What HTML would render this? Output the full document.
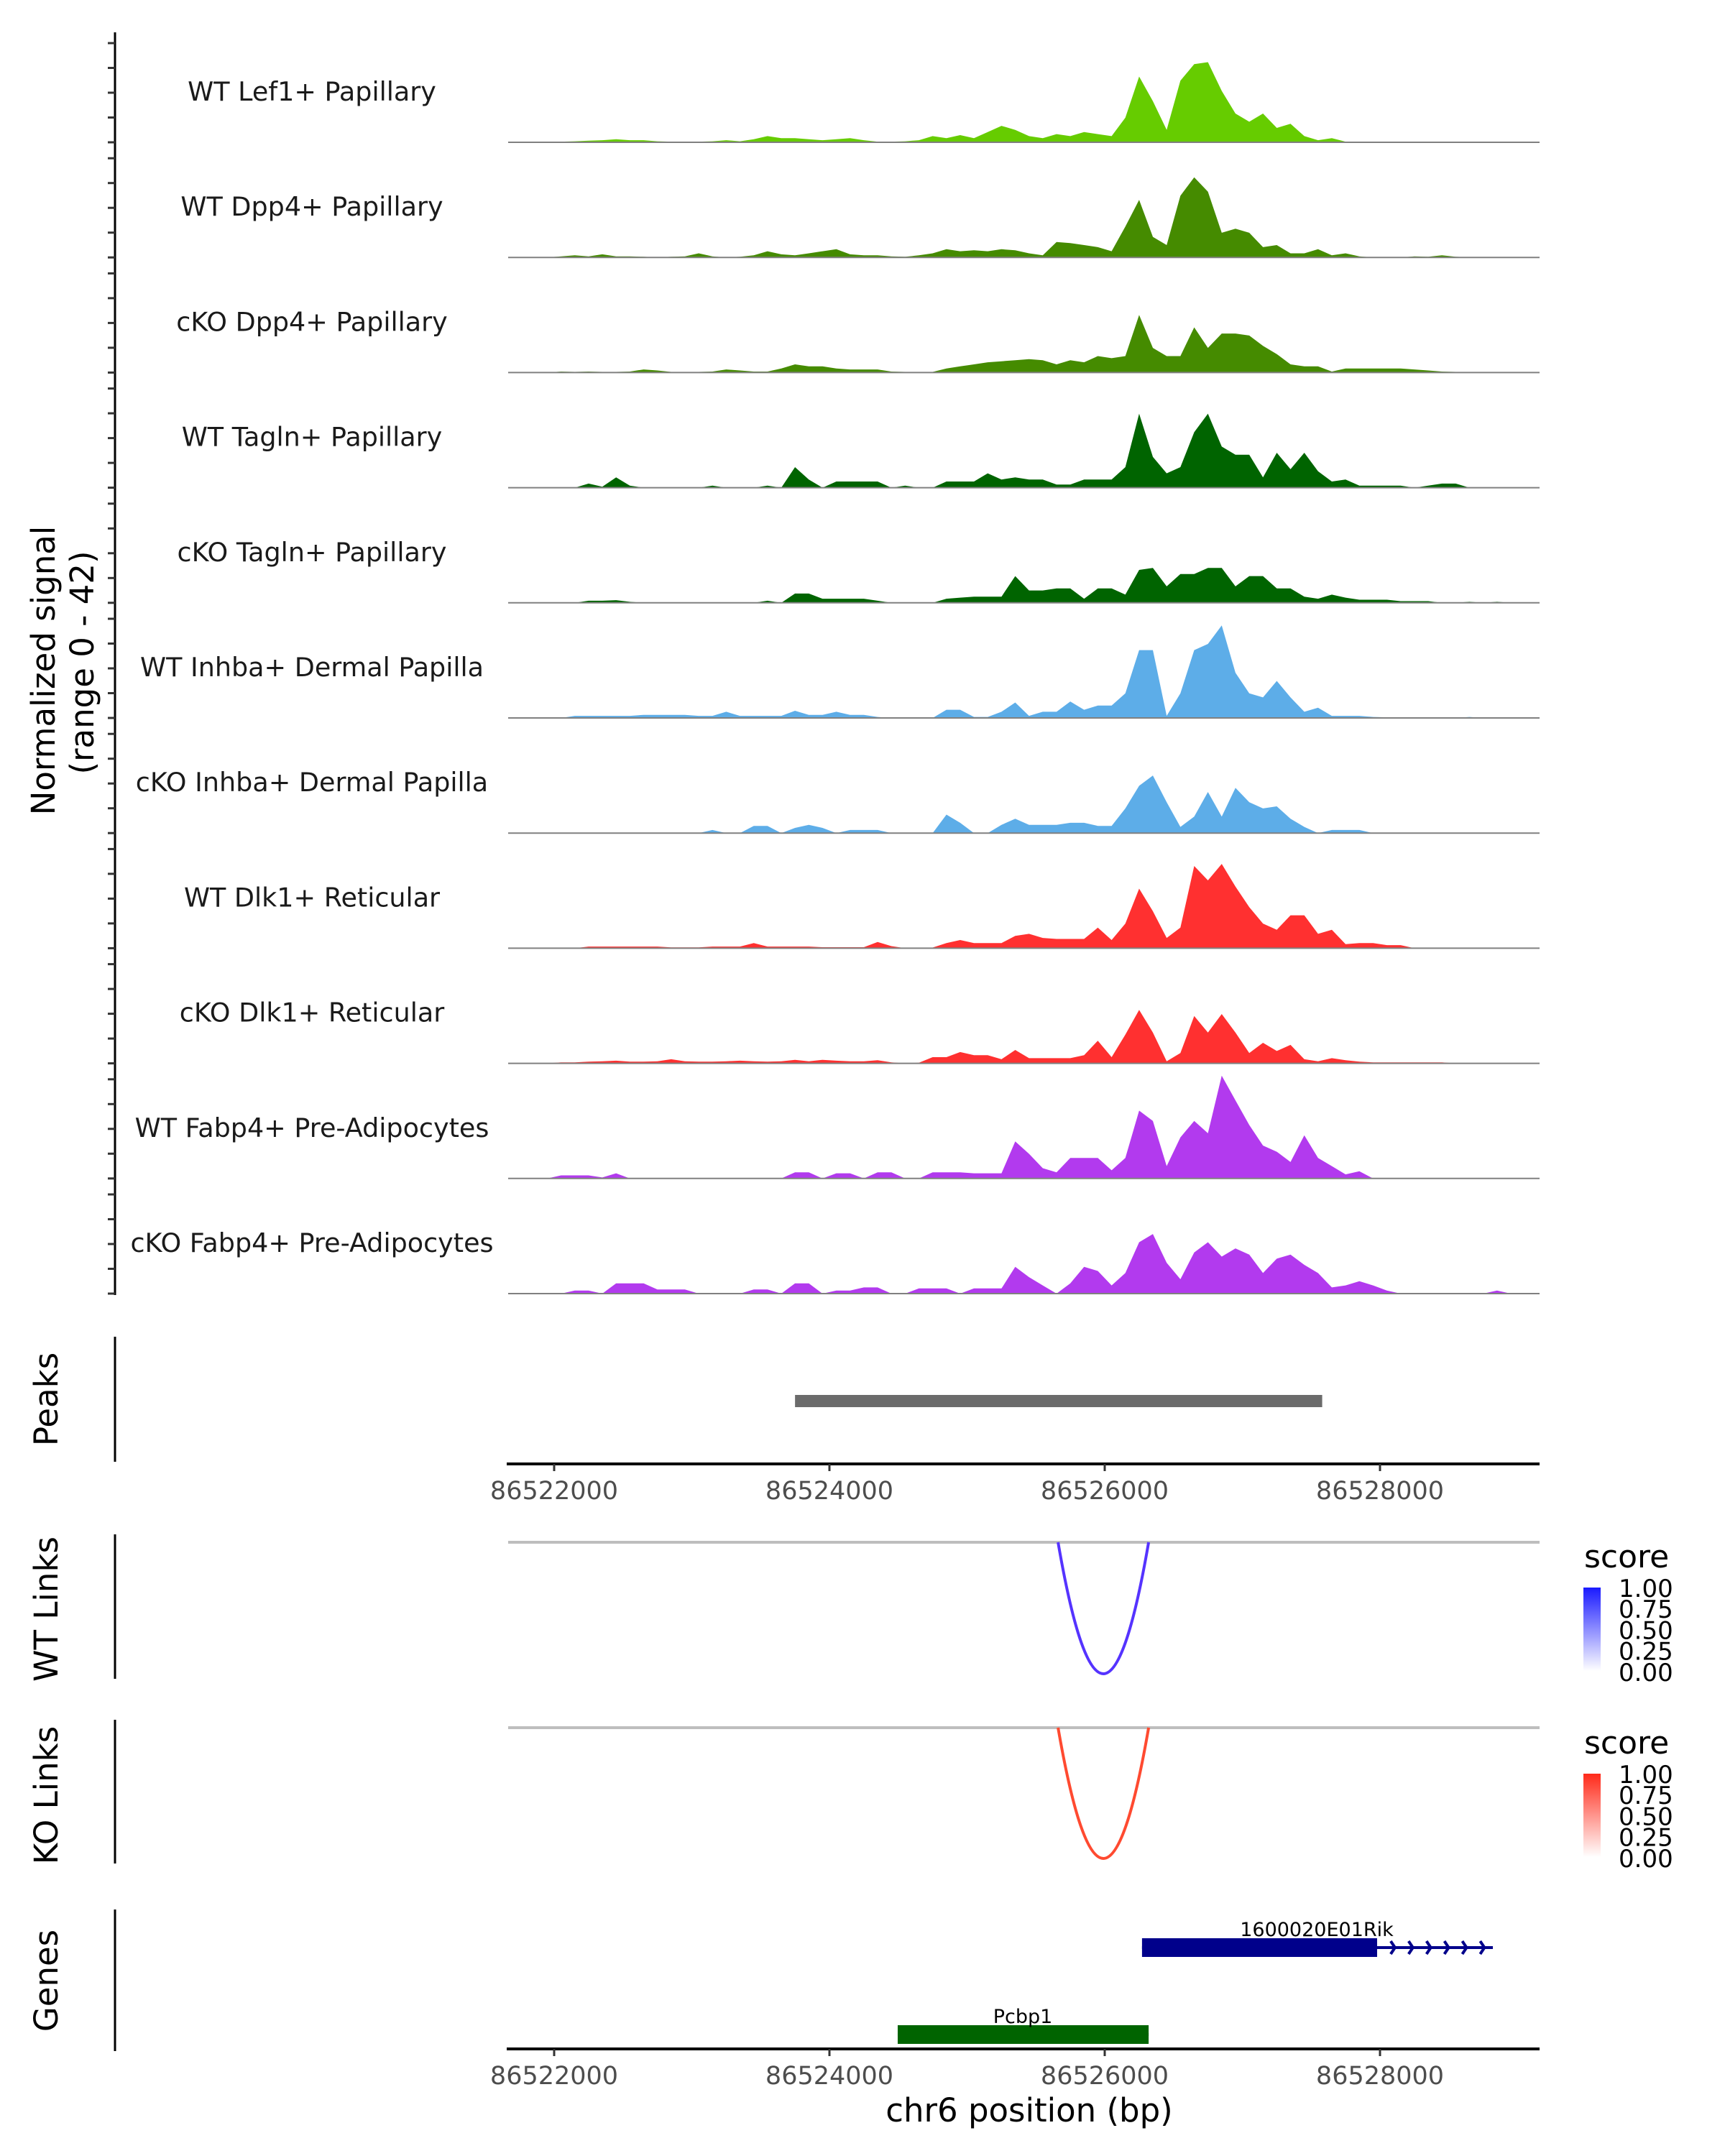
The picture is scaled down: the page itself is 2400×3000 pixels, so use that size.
<!DOCTYPE html>
<html><head><meta charset="utf-8"><style>
html,body{margin:0;padding:0;background:#fff}
svg{display:block}
text{font-family:"DejaVu Sans","Liberation Sans",sans-serif}
</style></head><body>
<svg id="chart" width="2400" height="3000" viewBox="0 0 2400 3000" xmlns="http://www.w3.org/2000/svg">
<g id="tracks"></g>
<g id="lower"></g>
</svg>
<script>
// ----- data -----
const binStart = 86521800;
const binSize = 100;
const trackNames = ["WT Lef1+ Papillary","WT Dpp4+ Papillary","cKO Dpp4+ Papillary","WT Tagln+ Papillary","cKO Tagln+ Papillary","WT Inhba+ Dermal Papilla","cKO Inhba+ Dermal Papilla","WT Dlk1+ Reticular","cKO Dlk1+ Reticular","WT Fabp4+ Pre-Adipocytes","cKO Fabp4+ Pre-Adipocytes"];
const trackColors = ["#66cc00","#458b00","#458b00","#006400","#006400","#5dade8","#5dade8","#ff3030","#ff3030","#b23aee","#b23aee"];
const sigLef1WT  = [0,0,0.3,0.5,0.8,1,1.5,1,1,0.5,0.3,0.3,0.3,0.5,1,0.5,1.5,3,2,2,1.5,1,1.5,2,1,0.3,0.3,0.5,1,3,2,3.5,2,5,8,6,3,2,4,3,5,4,3,12,32,20,6,30,38,39,25,14,10,14,7,9,3,1,2,0.3,0,0,0,0,0.3,0.3,0,0,0,0,0,0];
const sigDpp4WT  = [0,0,0.5,1,0.5,1.5,0.5,0.5,0.3,0,0.3,0.5,2,0.5,0,0.3,1,3,1.5,1,2,3,4,1.5,1,1,0.5,0.3,1,2,4,3,3.5,3,4,3.5,2,1,7.5,7,6,5,3,15,28,10,6,30,39,32,12,14,12,5,6,2,2,4,1,2,0.5,0,0,0,0.5,0.3,1,0.3,0,0,0,0];
const sigDpp4KO  = [0,0,0.5,0.3,0.5,0.3,0.3,0.5,1.5,1,0.3,0.3,0.3,0.5,1.5,1,0.5,0.5,2,4,3,3,2,1.5,1.5,1.5,0.5,0.3,0.3,0.3,2,3,4,5,5.5,6,6.5,6,4,6,5,8,7,8,28,12,8,8,22,12,19,19,18,13,9,4,3,3,0.5,2,2,2,2,2,1.5,1,0.5,0.3,0.3,0,0,0];
const sigTaglnWT = [0,0,0,0,2,0.5,5,1,0,0,0,0,0,1,0,0,0,1,0,10,4,0,3,3,3,3,0,1,0,0,3,3,3,7,4,5,4,4,1.5,1.5,4,4,4,10,36,15,7,10,27,36,20,16,16,5,17,9,17,8,3,4,1,1,1,1,0,1,2,2,0,0,0,0];
const sigTaglnKO = [0,0,0,0,1,1,1.3,0.5,0,0,0,0,0,0,0,0,0,1,0,4.5,4.5,2,2,2,2,1,0,0,0,0,2,2.5,3,3,3,13,6,6,7,7,2,7,7,4,16,17,8,14,14,17,17,8,13,13,7,7,3,2,4,2.5,1.5,1.5,1.5,0.8,0.8,0.8,0,0,0.5,0,0.5,0];
const sigInhbaWT = [0,0,0,1,1,1,1,1,1.5,1.5,1.5,1.5,1,1,3,1,1,1,1,3.5,1.5,1.5,3,1.5,1.5,0.5,0,0,0.3,0,4,4,0.5,0.5,3,7.5,1,3,3,8,4,6,6,12,33,33,1,12,33,36,45,22,12,10,18,10,3,5,1,1,1,0.5,0.3,0,0.3,0,0,0,0.5,0,0,0];
const sigInhbaKO = [0,0,0,0,0,0,0,0,0,0,0,0,0,1.5,0,0,3.5,3.5,0,2.5,4,2.5,0,1.5,1.5,1.5,0,0,0,0,9,5,0,0,4,7,4,4,4,5,5,3.5,3.5,12,23,28,15,3,8,20,8,22,15,12,13,7,3,0,1.5,1.5,1.5,0,0,0,0,0,0,0,0,0,0,0];
const sigDlk1WT  = [0,0,0,0,0.8,0.8,0.8,0.8,0.8,0.8,0.4,0.4,0.4,0.8,0.8,0.8,2.5,0.8,0.8,0.8,0.8,0.5,0.5,0.5,0.5,3,1,0,0.3,0.3,2.5,4,2.5,2.5,2.5,6,7,5,4.5,4.5,4.5,10,4,12,29,18,5,10,40,33,41,30,20,12,9,16,16,7,9,2,2.5,2.5,1.5,1.5,0,0,0,0,0,0,0,0];
const sigDlk1KO  = [0,0,0.5,0.5,0.8,1,1.3,0.8,0.8,1,2,1,0.8,0.8,1,1.3,1,0.8,1,1.7,1,1.7,1.3,1,1,1.5,0.5,0,0.3,3,3,5.5,4,4,2,6.5,2.5,2.5,2.5,2.5,4,11,3,14,26,15,1,5,23,15,24,15,5,10,6,9,2,1,2.5,1.5,0.8,0.5,0.5,0.5,0.5,0.5,0.5,0,0,0,0,0];
const sigFabp4WT = [0,0,1.5,1.5,1.5,0.5,2.5,0,0,0,0,0,0,0,0,0,0,0,0,3,3,0,2.5,2.5,0,3,3,0,0,3,3,3,2.5,2.5,2.5,18,12,5,3,10,10,10,4,10,33,28,6,20,28,22,50,38,26,16,13,8,21,10,6,2,3.5,0,0,0,0,0,0,0,0,0,0,0];
const sigFabp4KO = [0,0,0,1.5,1.5,0,5,5,5,2,2,2,0,0,0,0,2,2,0,5,5,0,1.5,1.5,3,3,0,0,2.5,2.5,2.5,0,2.5,2.5,2.5,13,8,4,0,5,13,11,4,10,25,29,15,7,20,25,18,22,19,10,17,19,14,10,3,4,6,4,1.5,0,0,0,0,0,0,0,1.5,0];
const allSignals = [sigLef1WT,sigDpp4WT,sigDpp4KO,sigTaglnWT,sigTaglnKO,sigInhbaWT,sigInhbaKO,sigDlk1WT,sigDlk1KO,sigFabp4WT,sigFabp4KO];
const xTicks = [86522000,86524000,86526000,86528000];
const peakStarts = [86523750];
const peakEnds = [86527580];
const linkStartsWT = [86525661]; const linkEndsWT = [86526319]; const linkScoresWT=[0.85];
const linkStartsKO = [86525661]; const linkEndsKO = [86526319]; const linkScoresKO=[0.85];
const geneNames = ["1600020E01Rik","Pcbp1"];
const geneStarts = [86526271,86524496];
const geneEnds = [86527979,86526319];
const geneTxEnds = [86528820,86526319];
const legendTicks = ["1.00","0.75","0.50","0.25","0.00"];

// ----- scales -----
const X0=707, X1=2142;
function xs(bp){return 771+(bp-86522000)*0.1915;}
const pxPerUnit=2.86;
function ys(v,base){return base-v*pxPerUnit;}
const NS="http://www.w3.org/2000/svg";
function mk(tag,attrs,parent){const e=document.createElementNS(NS,tag);for(const k in attrs)e.setAttribute(k,attrs[k]);parent.appendChild(e);return e;}

const tracks=document.getElementById('tracks');
const lower=document.getElementById('lower');

let ax=mk('line',{x1:160,y1:45,x2:160,y2:1802,stroke:'#000','stroke-width':3},tracks);


let t1=mk('text',{x:0,y:0,'font-size':45,'text-anchor':'middle',transform:'translate(76,933) rotate(-90)'},tracks);
t1.textContent='Normalized signal';


let t2=mk('text',{x:0,y:0,'font-size':45,'text-anchor':'middle',transform:'translate(130,922) rotate(-90)'},tracks);
t2.textContent='(range 0 - 42)';



allSignals.forEach((sig,k)=>{
  const base=198+160.2*k;
  const g=mk('g',{},tracks);
  
  
  [0,10,20,30,40].forEach(tv=>{
    const tk=mk('line',{x1:150,x2:160,y1:base-tv*3.45,y2:base-tv*3.45,stroke:'#333','stroke-width':3},g);
    
    
  });
  let d='M'+X0+','+base;
  sig.forEach((v,i)=>{const bp=binStart+binSize*(i+0.5);d+=' L'+xs(bp).toFixed(1)+','+ys(v,base).toFixed(1);});
  d+=' L'+X1+','+base+' Z';
  const p=mk('path',{d:d,fill:trackColors[k]},g);
  
  
  const bl=mk('line',{x1:X0,x2:X1,y1:base,y2:base,stroke:'#808080','stroke-width':2},g);
  
  
  const lb=mk('text',{x:434,y:base-58,'font-size':36.5,'text-anchor':'middle',fill:'#1a1a1a'},g);
  lb.textContent=trackNames[k];
  
  
});

function leftAxis(y1,y2,label,cy,name){
  const l=mk('line',{x1:160,x2:160,y1:y1,y2:y2,stroke:'#000','stroke-width':3},lower);
  
  
  const t=mk('text',{x:0,y:0,'font-size':45,'text-anchor':'middle',transform:'translate(80,'+cy+') rotate(-90)'},lower);
  t.textContent=label;
  
  
}
function xAxis(y,name){
  const l=mk('line',{x1:X0-2,x2:X1,y1:y,y2:y,stroke:'#000','stroke-width':4},lower);
  
  
  xTicks.forEach(v=>{
    const tk=mk('line',{x1:xs(v),x2:xs(v),y1:y,y2:y+10,stroke:'#333','stroke-width':3},lower);
    
    
    const tl=mk('text',{x:xs(v),y:y+49,'font-size':35,'text-anchor':'middle',fill:'#4d4d4d'},lower);
    tl.textContent=String(v);
    
    
  });
}
leftAxis(1860,2034,'Peaks',1947,'peaks');
peakStarts.forEach((s,i)=>{
  const r=mk('rect',{x:xs(s),y:1941,width:xs(peakEnds[i])-xs(s),height:17,fill:'#6b6b6b'},lower);
  
  
});
xAxis(2037,'peaks-x-axis');

function linkPanel(top,bottom,starts,ends,color,label,cy,name,gradId,c1,legTop){
  leftAxis(top-11,bottom+7,label,cy,name);
  const gl=mk('line',{x1:X0,x2:X1,y1:top,y2:top,stroke:'#bebebe','stroke-width':4},lower);
  
  
  starts.forEach((s,i)=>{
    const a=xs(s),b=xs(ends[i]),m=(a+b)/2;
    const p=mk('path',{d:'M'+a+','+top+' Q'+m+','+(2*bottom-top)+' '+b+','+top,fill:'none',stroke:color,'stroke-width':4},lower);
    
    
  });
  const defs=mk('defs',{},lower);
  const lg=mk('linearGradient',{id:gradId,x1:0,y1:1,x2:0,y2:0},defs);
  mk('stop',{offset:0,'stop-color':'#ffffff'},lg);
  mk('stop',{offset:1,'stop-color':c1},lg);
  const st=mk('text',{x:2204,y:legTop-28,'font-size':44},lower);
  st.textContent='score';
  
  
  const cb=mk('rect',{x:2203,y:legTop,width:24,height:116,fill:'url(#'+gradId+')'},lower);
  
  
  legendTicks.forEach((t,i)=>{
    const tt=mk('text',{x:2252,y:legTop+1+i*29.2+12,'font-size':34},lower);
    tt.textContent=t;
    
    
  });
}
linkPanel(2146,2329,linkStartsWT,linkEndsWT,'#5533ff','WT Links',2239,'wt-links','gwt','#1a1aff',2209);
linkPanel(2404,2586,linkStartsKO,linkEndsKO,'#ff4a30','KO Links',2498,'ko-links','gko','#ff2a1a',2468);

leftAxis(2657,2854,'Genes',2756,'genes');
const geneY=[2710,2831], geneCol=['#00008b','#006400'];
geneNames.forEach((n,i)=>{
  const y=geneY[i];
  const ln=mk('line',{x1:xs(geneStarts[i]),x2:xs(geneTxEnds[i]),y1:y,y2:y,stroke:geneCol[i],'stroke-width':4},lower);
  
  
  const r=mk('rect',{x:xs(geneStarts[i]),y:y-13,width:xs(geneEnds[i])-xs(geneStarts[i]),height:26,fill:geneCol[i]},lower);
  
  
  if(geneTxEnds[i]>geneEnds[i]){
    for(let bp=geneEnds[i]+130;bp<=geneTxEnds[i];bp+=130){
      const x=xs(bp);
      const ar=mk('path',{d:'M'+(x-6)+','+(y-9)+' L'+x+','+y+' L'+(x-6)+','+(y+9),fill:'none',stroke:geneCol[i],'stroke-width':4},lower);
      
      
    }
  }
  const tl=mk('text',{x:i==0?1832:1423,y:y-16,'font-size':27,'text-anchor':'middle'},lower);
  tl.textContent=n;
  
  
});
xAxis(2851,'genes-x-axis');
const xt=mk('text',{x:1432,y:2952,'font-size':45,'text-anchor':'middle'},lower);
xt.textContent='chr6 position (bp)';


</script>
</body></html>
